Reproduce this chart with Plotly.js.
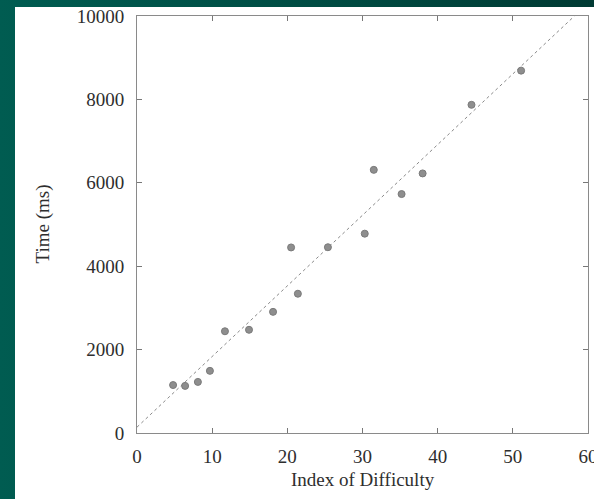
<!DOCTYPE html>
<html>
<head>
<meta charset="utf-8">
<script src="https://cdn.plot.ly/plotly-3.0.1.min.js"></script>
<style>
  html, body { margin: 0; padding: 0; width: 594px; height: 499px; overflow: hidden;
    background: linear-gradient(to right, #005c51 0%, #004a41 60%, #003a33 100%); }
  #chart { position: absolute; left: 15px; top: 7px; width: 579px; height: 492px; background: #fff; }
</style>
</head>
<body>
<div id="chart"></div>
<script>
// Index of difficulty vs. time
const indexOfDifficulty = [4.8, 6.4, 8.1, 9.7, 11.7, 14.9, 18.1, 20.5, 21.4, 25.4, 30.3, 31.5, 35.2, 38.0, 44.5, 51.1];
const timeMs = [1150, 1130, 1225, 1490, 2440, 2475, 2905, 4450, 3340, 4455, 4780, 6310, 5730, 6225, 7870, 8690];
const fitX = [0, 58.2];
const fitY = [140, 10000];
const xTicks = [0, 10, 20, 30, 40, 50, 60];
const yTicks = [0, 2000, 4000, 6000, 8000, 10000];

const font = { family: '"Liberation Serif", "Times New Roman", serif', size: 19, color: '#2e2e2e' };

const traces = [
  { x: fitX, y: fitY, mode: 'lines', type: 'scatter',
    line: { color: '#8a8a8a', width: 1, dash: '3px,3px' }, hoverinfo: 'skip' },
  { x: indexOfDifficulty, y: timeMs, mode: 'markers', type: 'scatter',
    marker: { color: '#8e8e8e', size: 7, line: { color: '#7a7a7a', width: 1 } } }
];

const axisCommon = {
  showgrid: false, zeroline: false, showline: true, linecolor: '#8a8a8a', linewidth: 1,
  mirror: 'ticks', ticks: 'inside', ticklen: 5, tickcolor: '#777', tickwidth: 1,
  tickfont: font, ticklabeloverflow: 'allow'
};

const layout = {
  width: 579, height: 492,
  margin: { l: 122, r: 6, t: 9, b: 66 },
  paper_bgcolor: '#ffffff', plot_bgcolor: '#ffffff',
  showlegend: false,
  font: font,
  xaxis: Object.assign({}, axisCommon, { range: [0, 60], tickvals: xTicks, ticktext: xTicks.map(String), ticklabelstandoff: 6 }),
  yaxis: Object.assign({}, axisCommon, { range: [0, 10000], tickvals: yTicks, ticktext: yTicks.map(String), ticklabelstandoff: 8 }),
  annotations: [
    { text: 'Index of Difficulty', xref: 'paper', yref: 'paper', x: 0.5, y: 0, yanchor: 'middle',
      yshift: -46, showarrow: false, font: font },
    { text: 'Time (ms)', xref: 'paper', yref: 'paper', x: 0, y: 0.5, xanchor: 'center', textangle: -90,
      xshift: -95, showarrow: false, font: font }
  ]
};

Plotly.newPlot('chart', traces, layout, { displayModeBar: false, staticPlot: true });
</script>
</body>
</html>
